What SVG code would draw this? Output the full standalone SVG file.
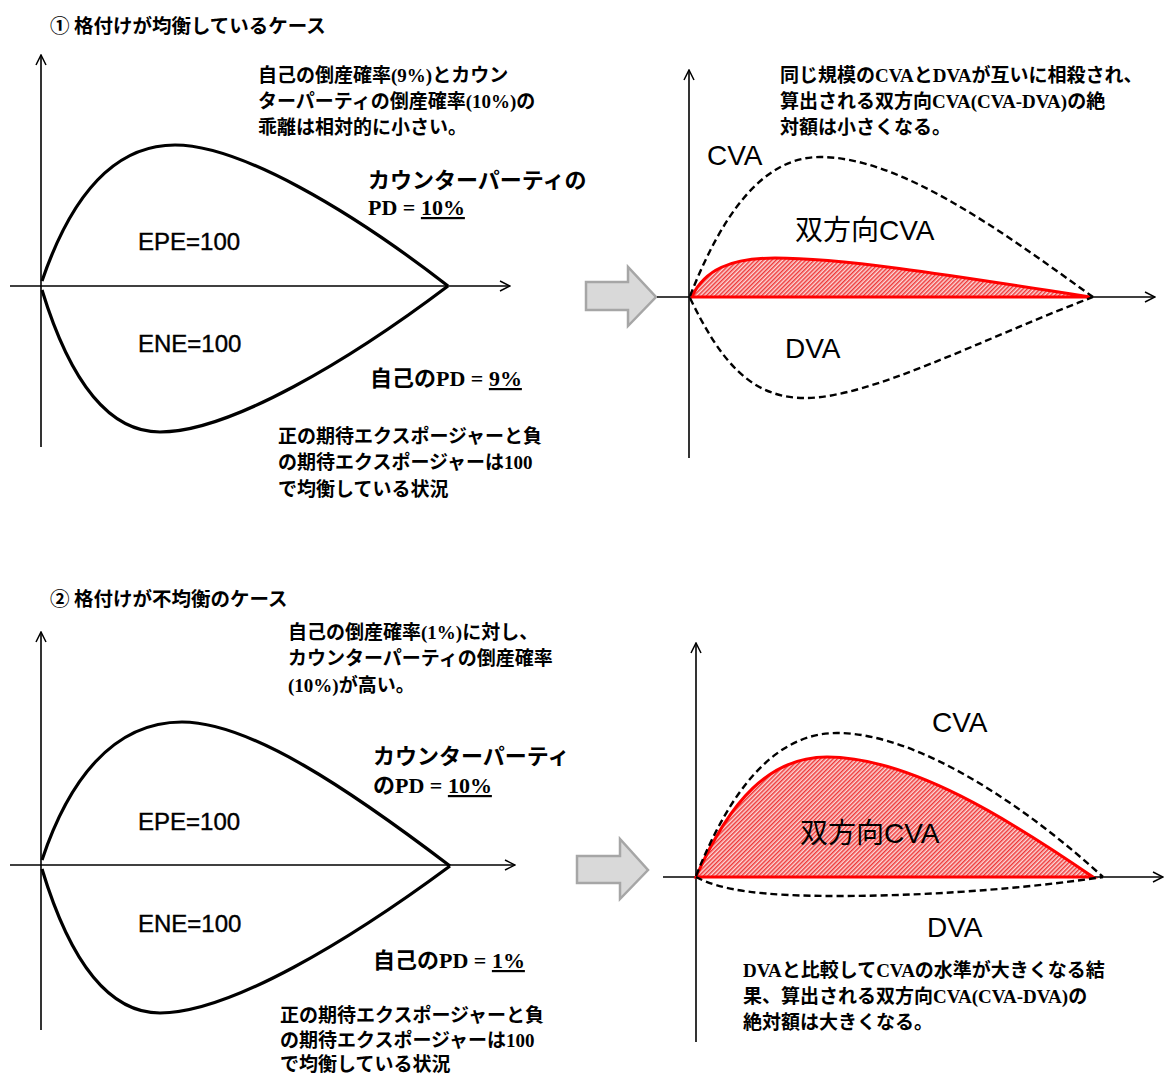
<svg xmlns="http://www.w3.org/2000/svg" width="1165" height="1077" viewBox="0 0 1165 1077">
<style>
.title{font-family:"Noto Sans CJK JP","Liberation Sans",sans-serif;font-size:19.5px;font-weight:bold;fill:#000}
.note{font-family:"Liberation Serif","Noto Sans CJK JP",serif;font-size:19px;font-weight:bold;fill:#000}
.big{font-family:"Liberation Serif","Noto Sans CJK JP",serif;font-size:22px;font-weight:bold;fill:#000}
.lbl{font-family:"Liberation Sans","Noto Sans CJK JP",sans-serif;font-size:24px;fill:#000;stroke:#000;stroke-width:0.4}
.lbl2{font-family:"Liberation Sans","Noto Sans CJK JP",sans-serif;font-size:28px;fill:#000}
.axis{fill:none;stroke:#000;stroke-width:1.6}
.curve{fill:none;stroke:#000;stroke-width:3.2}
.dash{fill:none;stroke:#000;stroke-width:2.4;stroke-dasharray:7 4}
.red{fill:url(#hatch);stroke:#ff0000;stroke-width:3}
.garrow{fill:#d9d9d9;stroke:#a6a6a6;stroke-width:2.5}
</style>
<defs>
<marker id="ah" viewBox="0 0 12 12" refX="11" refY="6" markerWidth="12" markerHeight="12" markerUnits="userSpaceOnUse" orient="auto">
<polyline points="1,1 11,6 1,11" fill="none" stroke="#000" stroke-width="1.5"/>
</marker>
<pattern id="hatch" patternUnits="userSpaceOnUse" width="3" height="3" patternTransform="rotate(45)">
<rect width="3" height="3" fill="#fbd8d8"/>
<line x1="0.75" y1="0" x2="0.75" y2="3" stroke="#ee3030" stroke-width="1.4"/>
</pattern>
</defs>

<g id="case1-title"><text class="title" x="50" y="33">① 格付けが均衡しているケース</text></g>

<g id="case1-left-chart">
<line class="axis" x1="41" y1="447" x2="41" y2="55" marker-end="url(#ah)"/>
<line class="axis" x1="10" y1="286" x2="510" y2="286" marker-end="url(#ah)"/>
<path class="curve" d="M42,281 C68,205 108,145 175,145 C240,145 350,210 448,286"/>
<path class="curve" d="M42,290 C68,375 105,432 160,432 C230,432 350,360 448,286"/>
</g>
<g id="case1-epe"><text class="lbl" x="138" y="250">EPE=100</text></g>
<g id="case1-ene"><text class="lbl" x="138" y="352">ENE=100</text></g>
<g id="case1-note-top">
<text class="note" x="258" y="82">自己の倒産確率(9%)とカウン</text>
<text class="note" x="258" y="108">ターパーティの倒産確率(10%)の</text>
<text class="note" x="258" y="134">乖離は相対的に小さい。</text>
</g>
<g id="case1-cp-pd">
<text class="big" x="368" y="188">カウンターパーティの</text>
<text class="big" x="368" y="215">PD = <tspan text-decoration="underline">10%</tspan></text>
</g>
<g id="case1-own-pd"><text class="big" x="370" y="386">自己のPD = <tspan text-decoration="underline">9%</tspan></text></g>
<g id="case1-note-bottom">
<text class="note" x="278" y="443">正の期待エクスポージャーと負</text>
<text class="note" x="278" y="469">の期待エクスポージャーは100</text>
<text class="note" x="278" y="496">で均衡している状況</text>
</g>

<g id="case1-arrow"><polygon class="garrow" points="586,282 628,282 628,267 656,297 628,326 628,310 586,310"/></g>

<g id="case1-right-chart">
<line class="axis" x1="689" y1="458" x2="689" y2="70" marker-end="url(#ah)"/>
<line class="axis" x1="657" y1="297" x2="1155" y2="297" marker-end="url(#ah)"/>
<path class="red" d="M692,296 C705,270 730,258 775,258 C850,258 980,280 1090,297 L692,297 Z"/>
<path class="dash" d="M690,296 C720,220 760,157 820,157 C900,157 1000,230 1093,297"/>
<path class="dash" d="M690,298 C720,360 750,398 805,398 C870,398 980,340 1093,297"/>
</g>
<g id="case1-cva"><text class="lbl2" x="707" y="165">CVA</text></g>
<g id="case1-bcva"><text class="lbl2" x="795" y="240">双方向CVA</text></g>
<g id="case1-dva"><text class="lbl2" x="785" y="358">DVA</text></g>
<g id="case1-note-right">
<text class="note" x="780" y="82">同じ規模のCVAとDVAが互いに相殺され、</text>
<text class="note" x="780" y="108">算出される双方向CVA(CVA-DVA)の絶</text>
<text class="note" x="780" y="134">対額は小さくなる。</text>
</g>

<g id="case2-title"><text class="title" x="50" y="606">② 格付けが不均衡のケース</text></g>

<g id="case2-left-chart">
<line class="axis" x1="41" y1="1030" x2="41" y2="632" marker-end="url(#ah)"/>
<line class="axis" x1="10" y1="865" x2="515" y2="865" marker-end="url(#ah)"/>
<path class="curve" d="M42,860 C68,782 112,722 182,722 C250,722 350,790 450,866"/>
<path class="curve" d="M42,869 C68,955 105,1013 160,1013 C230,1013 350,940 450,866"/>
</g>
<g id="case2-epe"><text class="lbl" x="138" y="830">EPE=100</text></g>
<g id="case2-ene"><text class="lbl" x="138" y="932">ENE=100</text></g>
<g id="case2-note-top">
<text class="note" x="288" y="639">自己の倒産確率(1%)に対し、</text>
<text class="note" x="288" y="665">カウンターパーティの倒産確率</text>
<text class="note" x="288" y="692">(10%)が高い。</text>
</g>
<g id="case2-cp-pd">
<text class="big" x="373" y="764">カウンターパーティ</text>
<text class="big" x="373" y="793">のPD = <tspan text-decoration="underline">10%</tspan></text>
</g>
<g id="case2-own-pd"><text class="big" x="373" y="968">自己のPD = <tspan text-decoration="underline">1%</tspan></text></g>
<g id="case2-note-bottom">
<text class="note" x="280" y="1022">正の期待エクスポージャーと負</text>
<text class="note" x="280" y="1047">の期待エクスポージャーは100</text>
<text class="note" x="280" y="1071">で均衡している状況</text>
</g>

<g id="case2-arrow"><polygon class="garrow" points="577,856 620,856 620,839 648,870 620,899 620,883 577,883"/></g>

<g id="case2-right-chart">
<line class="axis" x1="696" y1="1042" x2="696" y2="643" marker-end="url(#ah)"/>
<line class="axis" x1="663" y1="877" x2="1163" y2="877" marker-end="url(#ah)"/>
<path class="red" d="M696,877 C730,800 770,757 827,757 C910,757 1010,820 1093,877 Z"/>
<path class="dash" d="M696,876 C730,790 775,733 837,733 C920,733 1030,810 1103,877"/>
<path class="dash" d="M696,877 C720,890 760,896 837,896 C950,896 1050,885 1103,877"/>
</g>
<g id="case2-cva"><text class="lbl2" x="932" y="732">CVA</text></g>
<g id="case2-bcva"><text class="lbl2" x="800" y="843">双方向CVA</text></g>
<g id="case2-dva"><text class="lbl2" x="927" y="937">DVA</text></g>
<g id="case2-note-right">
<text class="note" x="743" y="977">DVAと比較してCVAの水準が大きくなる結</text>
<text class="note" x="743" y="1003">果、算出される双方向CVA(CVA-DVA)の</text>
<text class="note" x="743" y="1029">絶対額は大きくなる。</text>
</g>
</svg>
